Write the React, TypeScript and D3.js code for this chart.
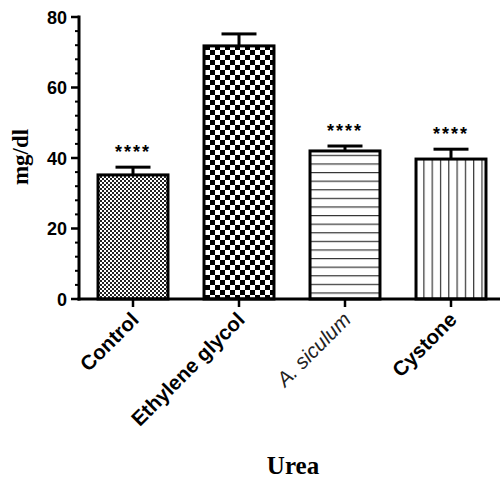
import React from 'react';
import * as d3 from 'd3';

const categories = ['Control', 'Ethylene glycol', 'A. siculum', 'Cystone'];
const means = [35.2, 71.8, 42.0, 39.7];
const errors = [2.2, 3.4, 1.4, 2.8];
const stars = ['****', '', '****', '****'];
const yTicks = [0, 20, 40, 60, 80];
const patternIds = ['fineCheck', 'bigCheck', 'hLines', 'vLines'];

const width = 500;
const height = 479;

export default function App() {
  const x = d3.scaleBand<string>()
    .domain(categories)
    .range([80, 504])
    .paddingInner(0.34)
    .paddingOuter(0.17);
  const y = d3.scaleLinear().domain([0, 80]).range([299, 17]);
  const minorTicks = d3.range(0, 81, 4).filter(v => v % 20 !== 0);
  const capHalf = x.bandwidth() / 4;
  const centers = categories.map(c => (x(c) as number) + x.bandwidth() / 2);
  const base = y(0);

  return (
    <svg width={width} height={height} style={{ position: 'absolute', left: 0, top: 0, background: '#fff' }}>
      <defs>
        <pattern id="fineCheck" patternUnits="userSpaceOnUse" width={4} height={4}>
          <rect width={4} height={4} fill="#fff" />
          <rect width={2} height={2} fill="#222" />
          <rect x={2} y={2} width={2} height={2} fill="#222" />
        </pattern>
        <pattern id="bigCheck" patternUnits="userSpaceOnUse" width={10} height={10}>
          <rect width={10} height={10} fill="#fff" />
          <rect width={5} height={5} fill="#000" />
          <rect x={5} y={5} width={5} height={5} fill="#000" />
        </pattern>
        <pattern id="hLines" patternUnits="userSpaceOnUse" width={10} height={8.6}>
          <rect width={10} height={8.6} fill="#fff" />
          <rect x={0} y={0} width={10} height={1.2} fill="#333" />
        </pattern>
        <pattern id="vLines" patternUnits="userSpaceOnUse" width={8.3} height={10}>
          <rect width={8.3} height={10} fill="#fff" />
          <rect x={0} y={0} width={1.2} height={10} fill="#333" />
        </pattern>
      </defs>

      {categories.map((c, i) => {
        const bx = x(c) as number;
        const cx = centers[i];
        const top = y(means[i]);
        const errTop = y(means[i] + errors[i]);
        return (
          <g key={c}>
            <rect x={cx - 1.5} y={errTop} width={3} height={top - errTop} fill="#000" />
            <rect x={cx - capHalf} y={errTop - 1.5} width={capHalf * 2} height={3} fill="#000" />
            <rect x={bx} y={top} width={x.bandwidth()} height={base - top}
              fill={`url(#${patternIds[i]})`} stroke="#000" strokeWidth={3} />
            {stars[i] && (
              <text x={cx} y={errTop - 9} textAnchor="middle" fontFamily="Liberation Sans, Arial" fontWeight="bold"
                fontSize={18} letterSpacing={2}>{stars[i]}</text>
            )}
          </g>
        );
      })}

      {/* y axis */}
      <rect x={77.5} y={y(80) - 1.5} width={3} height={base - y(80) + 3} fill="#000" />
      {yTicks.map(t => (
        <g key={t}>
          <rect x={71} y={y(t) - 1.25} width={8} height={2.5} fill="#000" />
          <text x={67} y={y(t) + 6.5} textAnchor="end" fontFamily="Liberation Sans, Arial" fontWeight="bold" fontSize={18}>{t}</text>
        </g>
      ))}
      {minorTicks.map(t => (
        <rect key={t} x={75} y={y(t) - 1} width={4} height={2} fill="#000" />
      ))}

      {/* x axis */}
      <rect x={77.5} y={base - 1.5} width={500 - 77.5} height={3} fill="#000" />
      {categories.map((c, i) => {
        const italic = c === 'A. siculum';
        return (
          <g key={c}>
            <rect x={centers[i] - 1.25} y={base} width={2.5} height={8} fill="#000" />
            <text transform={`translate(${centers[i] + 7},${base + 22}) rotate(-45)`} textAnchor="end"
              fontFamily="Liberation Sans, Arial" fontWeight={italic ? 'normal' : 'bold'}
              fontStyle={italic ? 'italic' : 'normal'} fill={italic ? '#222' : '#000'} fontSize={20.5}>{c}</text>
          </g>
        );
      })}

      <text transform="translate(28,157) rotate(-90)" textAnchor="middle" fontFamily="Liberation Serif, Times New Roman"
        fontWeight="bold" fontSize={23}>mg/dl</text>
      <text x={293} y={474} textAnchor="middle" fontFamily="Liberation Serif, Times New Roman"
        fontWeight="bold" fontSize={25}>Urea</text>
    </svg>
  );
}
